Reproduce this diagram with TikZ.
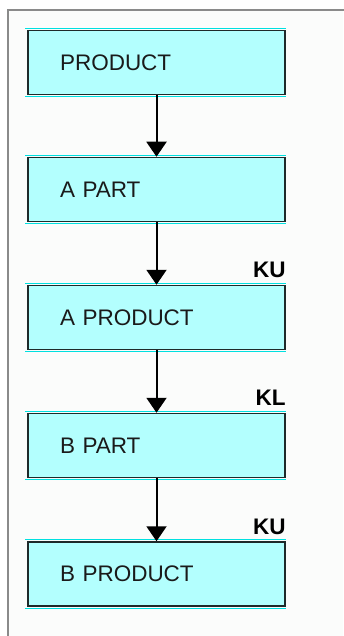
\documentclass[tikz,border=0pt]{standalone}
\usepackage{fontspec}
\setmainfont{Liberation Sans}
\usetikzlibrary{arrows.meta}
\definecolor{boxfill}{HTML}{B3FFFE}
\definecolor{boxedge}{HTML}{1E2A2A}
\definecolor{hilite}{HTML}{00E0E0}
\definecolor{framegray}{HTML}{8A8A8A}
\definecolor{bgwhite}{HTML}{FBFCFB}
\definecolor{textdark}{HTML}{1A1A1A}
\tikzset{
  partbox/.style={draw=boxedge, fill=boxfill, line width=1.5pt,
    minimum height=64pt, text width=193pt, inner xsep=32pt, align=left,
    text=textdark, font=\fontsize{22.5}{27}\selectfont},
  flowarrow/.style={draw=black, line width=2pt, -{Triangle[width=20pt,length=15pt]}},
  keylabel/.style={anchor=base east, inner sep=0pt, font=\fontsize{22.5}{27}\selectfont\bfseries},
  hiline/.style={draw=hilite, line width=1.2pt}
}
\begin{document}
\begin{tikzpicture}[x=1pt,y=-1pt]
\useasboundingbox (0,0) rectangle (343,636);
\fill[white] (0,0) rectangle (343,636);
\fill[bgwhite] (8,10) rectangle (343,636);
\draw[framegray, line width=2pt] (8,640) -- (8,10) -- (345,10);

\node[partbox] (p1) at (156.5,62.5) {PRODUCT};
\node[partbox] (p2) at (156.5,189.5) {A PART};
\node[partbox] (p3) at (156.5,317.5) {A PRODUCT};
\node[partbox] (p4) at (156.5,445.5) {B PART};
\node[partbox] (p5) at (156.5,574) {B PRODUCT};

\foreach \b in {p1,p2,p3,p4,p5}{
  \draw[hiline] ([xshift=-2pt,yshift=1.4pt]\b.north west) -- ([yshift=1.4pt]\b.north east);
  \draw[hiline] ([xshift=-2pt,yshift=-1.4pt]\b.south west) -- ([yshift=-1.4pt]\b.south east);
}

\draw[flowarrow] (p1.south) -- (p2.north);
\draw[flowarrow] (p2.south) -- (p3.north);
\draw[flowarrow] (p3.south) -- (p4.north);
\draw[flowarrow] (p4.south) -- (p5.north);

\node[keylabel] (k3) at ([yshift=7pt]p3.north east) {KU};
\node[keylabel] (k4) at ([yshift=7pt]p4.north east) {KL};
\node[keylabel] (k5) at ([yshift=7pt]p5.north east) {KU};
\end{tikzpicture}
\end{document}
